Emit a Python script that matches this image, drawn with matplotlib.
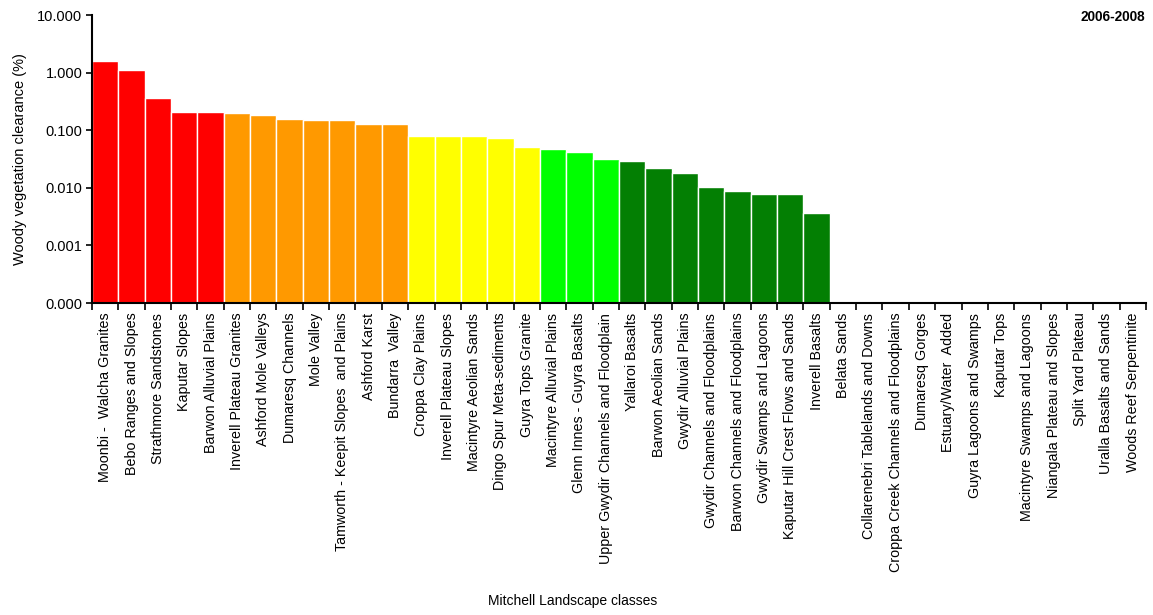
import matplotlib.pyplot as plt
import numpy as np
from matplotlib.ticker import FixedLocator, FuncFormatter

plt.rcParams["font.family"] = ["Liberation Sans", "DejaVu Sans"]

# Mitchell landscape classes, sorted by clearance
classes = [
    "Moonbi -  Walcha Granites", "Bebo Ranges and Slopes", "Strathmore Sandstones",
    "Kaputar Slopes", "Barwon Alluvial Plains", "Inverell Plateau Granites",
    "Ashford Mole Valleys", "Dumaresq Channels", "Mole Valley",
    "Tamworth - Keepit Slopes  and Plains", "Ashford Karst", "Bundarra  Valley",
    "Croppa Clay Plains", "Inverell Plateau Slopes", "Macintyre Aeolian Sands",
    "Dingo Spur Meta-sediments", "Guyra Tops Granite", "Macintyre Alluvial Plains",
    "Glenn Innes - Guyra Basalts", "Upper Gwydir Channels and Floodplain",
    "Yallaroi Basalts", "Barwon Aeolian Sands", "Gwydir Alluvial Plains",
    "Gwydir Channels and Floodplains", "Barwon Channels and Floodplains",
    "Gwydir Swamps and Lagoons", "Kaputar Hill Crest Flows and Sands",
    "Inverell Basalts", "Belata Sands", "Collarenebri Tablelands and Downs",
    "Croppa Creek Channels and Floodplains", "Dumaresq Gorges",
    "Estuary/Water  Added", "Guyra Lagoons and Swamps", "Kaputar Tops",
    "Macintyre Swamps and Lagoons", "Niangala Plateau and Slopes",
    "Split Yard Plateau", "Uralla Basalts and Sands", "Woods Reef Serpentinite",
]

# woody vegetation clearance (%) 2006-2008
clearance = [
    1.59, 1.11, 0.362, 0.207, 0.207, 0.199, 0.184, 0.156, 0.150, 0.150,
    0.128, 0.128, 0.079, 0.079, 0.079, 0.073, 0.051, 0.047, 0.042, 0.0316,
    0.0292, 0.0221, 0.0181, 0.0103, 0.0088, 0.0078, 0.0078, 0.0035,
    0, 0, 0, 0, 0, 0, 0, 0, 0, 0, 0, 0,
]

# colour group per bar
groups = ["red"] * 5 + ["orange"] * 7 + ["yellow"] * 5 + ["lime"] * 3 + ["green"] * 20
palette = {"red": "#FF0000", "orange": "#FF9900", "yellow": "#FFFF00",
           "lime": "#00FF00", "green": "#037F03"}

y_ticks = [0.0001, 0.001, 0.01, 0.1, 1, 10]

fig = plt.figure(figsize=(11.53, 6.15), dpi=100)
ax = fig.add_axes([0.0798, 0.5073, 0.9141, 0.4683])

x = np.arange(len(classes))
vals = np.array(clearance, dtype=float)
pos = vals > 0
ax.bar(x[pos], vals[pos], width=1.0, bottom=1e-4,
       color=[palette[g] for g, p in zip(groups, pos) if p],
       edgecolor="white", linewidth=1.0)

ax.set_yscale("log")
ax.set_ylim(1e-4, 10)
ax.set_xlim(-0.5, len(classes) - 0.5)

ax.yaxis.set_major_locator(FixedLocator(y_ticks))
ax.yaxis.set_minor_locator(FixedLocator([]))
ax.yaxis.set_major_formatter(FuncFormatter(lambda v, p: "%.3f" % v))
ax.tick_params(axis="y", direction="out", length=4, width=1.2, labelsize=10.5, pad=3)

ax.set_xticks(x)
ax.set_xticklabels(classes, rotation=90, fontsize=10.3)
ax.set_xticks(np.arange(len(classes) + 1) - 0.5, minor=True)
ax.tick_params(axis="x", which="major", length=0, pad=7)
ax.tick_params(axis="x", which="minor", direction="out", length=5, width=1.2)

for side in ["top", "right"]:
    ax.spines[side].set_visible(False)
for side in ["left", "bottom"]:
    ax.spines[side].set_linewidth(1.5)

ax.set_ylabel("Woody vegetation clearance (%)", fontsize=10.5, labelpad=7)
fig.text(0.497, 0.022, "Mitchell Landscape classes", ha="center", va="center", fontsize=10)
fig.text(0.993, 0.973, "2006-2008", ha="right", va="center", fontsize=9.8, fontweight="bold")

fig.savefig("out.png", dpi=100)
